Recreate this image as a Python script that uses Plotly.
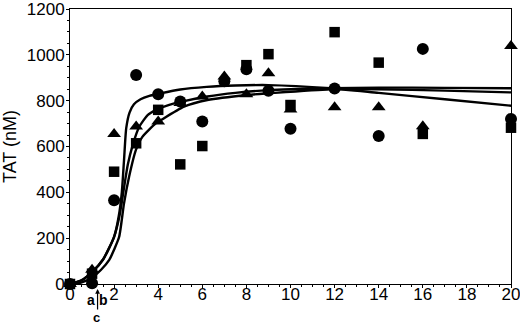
import plotly.graph_objects as go

# ---- data ----
circle_x = [0, 1, 2, 3, 4, 5, 6, 7, 8, 9, 10, 12, 14, 16, 20]
circle_y = [0, 3, 365, 912, 828, 796, 709, 885, 937, 843, 677, 853, 646, 1026, 720]

square_x = [0, 1, 2, 3, 4, 5, 6, 8, 9, 10, 12, 14, 16, 20]
square_y = [0, 45, 490, 614, 760, 522, 602, 955, 1003, 781, 1099, 966, 655, 682]

triangle_x = [0, 1, 2, 3, 4, 5, 6, 7, 8, 9, 10, 12, 14, 16, 20]
triangle_y = [0, 62, 655, 687, 709, 790, 818, 905, 828, 920, 762, 771, 771, 688, 1039]

# fitted curves
curveA_x = [0, 0.5, 1, 1.5, 2, 2.2, 2.35, 2.45, 2.55, 2.7, 2.9, 3.2, 3.6, 4.1, 5, 6.2, 7.5, 9, 11.8, 14, 17, 20]
curveA_y = [0, 15, 52, 107, 206, 290, 400, 540, 680, 748, 784, 806, 821, 832, 849, 860, 866, 868, 854, 834, 806, 778]

curveB_x = [0, 0.5, 1, 1.5, 2, 2.25, 2.45, 2.62, 2.84, 3.14, 3.52, 3.9, 4.5, 5.17, 6.23, 7.5, 9, 11.8, 14, 17, 20]
curveB_y = [0, 15, 52, 107, 206, 300, 420, 520, 605, 686, 737, 760, 782, 798, 818, 834, 846, 854, 857, 856, 854]

curveC_x = [0, 0.5, 1, 1.4, 1.78, 2.0, 2.23, 2.45, 2.68, 2.99, 3.29, 3.89, 4.12, 5.17, 6.23, 8.04, 9, 11.8, 14, 17, 20]
curveC_y = [0, 6, 28, 61, 105, 150, 206, 352, 468, 585, 643, 701, 715, 774, 803, 825, 832, 850, 850, 844, 836]

x_ticks = [0, 2, 4, 6, 8, 10, 12, 14, 16, 18, 20]
y_ticks = [0, 200, 400, 600, 800, 1000, 1200]

fig = go.Figure()

for cx, cy in [(curveA_x, curveA_y), (curveB_x, curveB_y), (curveC_x, curveC_y)]:
    fig.add_trace(go.Scatter(x=cx, y=cy, mode="lines",
                             line=dict(color="black", width=2.4, shape="spline", smoothing=0.6),
                             showlegend=False, hoverinfo="skip"))

fig.add_trace(go.Scatter(x=circle_x, y=circle_y, mode="markers",
                         marker=dict(symbol="circle", size=12, color="black"),
                         cliponaxis=False, showlegend=False))
fig.add_trace(go.Scatter(x=square_x, y=square_y, mode="markers",
                         marker=dict(symbol="square", size=10.5, color="black"),
                         cliponaxis=False, showlegend=False))
fig.add_trace(go.Scatter(x=triangle_x, y=triangle_y, mode="markers",
                         marker=dict(symbol="triangle-up", size=12, color="black"),
                         cliponaxis=False, showlegend=False))

font_family = "Liberation Sans, Arial, sans-serif"

fig.update_layout(
    width=520, height=326,
    margin=dict(l=70, r=9, t=9, b=42, autoexpand=False),
    paper_bgcolor="white", plot_bgcolor="white",
    font=dict(family=font_family, color="black", size=17),
    xaxis=dict(range=[0, 20], tickvals=x_ticks, ticktext=[str(v) for v in x_ticks],
               automargin=False, ticklabeloverflow="allow", ticklabelstandoff=-8,
               showgrid=False, zeroline=False, showline=True, linecolor="black", linewidth=1,
               mirror=True, ticks="outside", ticklen=3, tickcolor="black",
               minor=dict(dtick=0.5, ticks="outside", ticklen=2, tickcolor="black"),
               tickfont=dict(size=17)),
    yaxis=dict(range=[0, 1200], tickvals=y_ticks, ticktext=[str(v) for v in y_ticks],
               automargin=False, ticklabeloverflow="allow", ticklabelstandoff=-2,
               showgrid=False, zeroline=False, showline=True, linecolor="black", linewidth=1,
               mirror=True, ticks="outside", ticklen=3, tickcolor="black",
               minor=dict(dtick=50, ticks="outside", ticklen=2, tickcolor="black"),
               tickfont=dict(size=17),
               title=dict(text="TAT (nM)", font=dict(size=18), standoff=8)),
)

ab_font = dict(family=font_family, size=14, color="black")
c_font = dict(family=font_family, size=13, color="black")
fig.add_annotation(x=0.94, y=-0.0582, xref="x", yref="paper", text="<b>a</b>",
                   showarrow=False, font=ab_font, xanchor="center", yanchor="middle", borderpad=0)
fig.add_annotation(x=1.54, y=-0.0582, xref="x", yref="paper", text="<b>b</b>",
                   showarrow=False, font=ab_font, xanchor="center", yanchor="middle", borderpad=0)
fig.add_annotation(x=1.19, y=-0.1218, xref="x", yref="paper", text="<b>c</b>",
                   showarrow=False, font=c_font, xanchor="center", yanchor="middle", borderpad=0)
fig.add_annotation(x=1.25, y=-0.018, xref="x", yref="paper", text="",
                   showarrow=True, arrowhead=2, arrowsize=0.8, arrowwidth=1.2,
                   arrowcolor="black", ax=0, ay=22)

fig.write_html("out.html", config={"displayModeBar": False},
               post_script="document.body.style.margin='0';document.body.style.padding='0';")
